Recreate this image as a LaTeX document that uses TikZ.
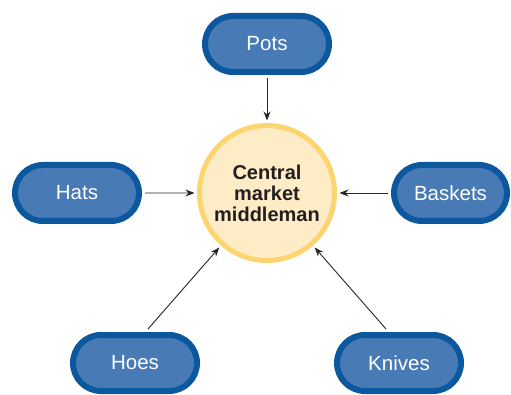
\documentclass[tikz,border=0pt]{standalone}
\usepackage{fontspec}
\setmainfont{Liberation Sans}
\usetikzlibrary{shapes.misc,arrows.meta,calc}
\definecolor{boxfill}{RGB}{72,122,181}
\definecolor{boxline}{RGB}{12,88,158}
\definecolor{cfill}{RGB}{254,236,198}
\definecolor{cline}{RGB}{252,212,112}
\definecolor{txtdark}{RGB}{35,31,32}
\tikzset{
  good/.style={rounded rectangle, draw=boxline, fill=boxfill, line width=6pt,
    minimum width=124pt, minimum height=56pt, inner sep=0pt,
    text=white, font=\fontsize{20.5}{22}\selectfont},
  hub/.style={circle, draw=cline, fill=cfill, line width=5pt, minimum size=135pt,
    inner sep=0pt, align=center, text=txtdark,
    font=\fontsize{20}{21}\selectfont\bfseries},
  arr/.style={draw=black!85, line width=0.9pt, -{Stealth[length=9pt,width=7pt]}, shorten >=2.5pt}
}
\begin{document}
\begin{tikzpicture}[x=1pt,y=-1pt]
\useasboundingbox (0,0) rectangle (511,395);
\node[hub] (cen) at (267,193) {Central\\market\\middleman};
\node[good] (pots) at (267,44) {Pots};
\node[good] (hats) at (77,193) {Hats};
\node[good, minimum width=113pt] (baskets) at (450.5,193) {Baskets};
\node[good] (hoes) at (135,363) {Hoes};
\node[good] (knives) at (399,363) {Knives};
\coordinate (hoesT) at ($(hoes.north)+(13,-3)$);
\coordinate (knivesT) at ($(knives.north)+(-13,-3)$);
\draw[arr, shorten <=3pt] (pots) -- (cen);
\draw[arr, shorten <=3pt] (hats) -- (cen);
\draw[arr, shorten <=3pt] (baskets) -- (cen);
\draw[arr] (hoesT) -- (cen);
\draw[arr] (knivesT) -- (cen);
\end{tikzpicture}
\end{document}
